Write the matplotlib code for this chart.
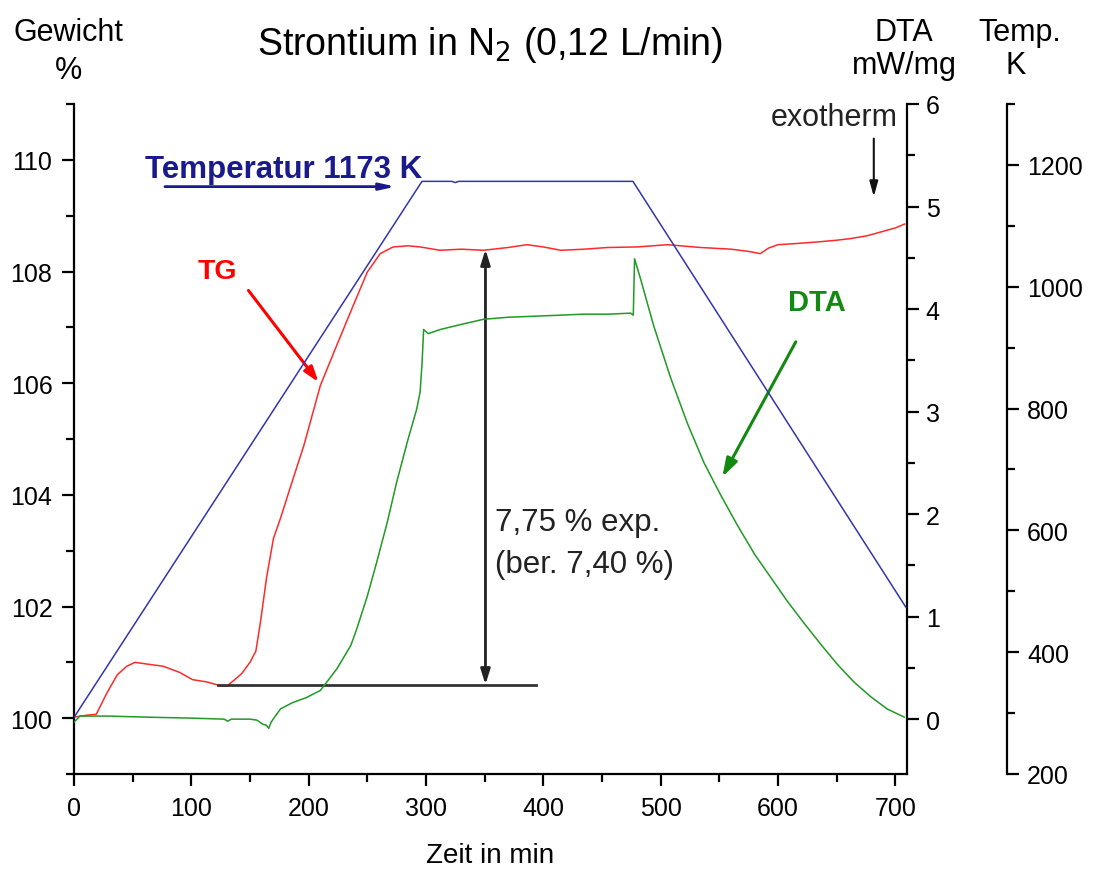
import matplotlib
matplotlib.use("Agg")
import matplotlib.pyplot as plt
from matplotlib.ticker import FixedLocator

plt.rcParams['font.family'] = ['Liberation Sans', 'DejaVu Sans']

# --- measured curves -------------------------------------------------------
# temperature programme (K) vs. time (min)
temp_t = [0, 296.6, 322, 325, 328, 476.4, 709]
temp_K = [293, 1173, 1173, 1171, 1173, 1173, 474]

# TG: relative mass (%)
tg_t = [0, 10, 19, 28, 37, 45, 52, 62, 76, 90, 101, 113, 125, 130, 137, 143,
        150, 155, 159, 164, 170, 176, 184, 196, 210, 224, 238, 250, 261, 272,
        285, 295, 312, 330, 349, 370, 386, 400, 415, 435, 455, 480, 506, 534,
        560, 575, 585, 592, 600, 615, 634, 650, 662, 676, 688, 700, 708]
tg_w = [100.02, 100.05, 100.07, 100.45, 100.78, 100.93, 101.00, 100.97,
        100.93, 100.82, 100.69, 100.65, 100.58, 100.57, 100.69, 100.80,
        101.00, 101.20, 101.73, 102.50, 103.22, 103.58, 104.11, 104.89,
        105.96, 106.68, 107.39, 107.99, 108.32, 108.44, 108.46, 108.44,
        108.38, 108.40, 108.38, 108.43, 108.48, 108.44, 108.38, 108.40,
        108.43, 108.44, 108.48, 108.43, 108.40, 108.36, 108.32, 108.42,
        108.48, 108.50, 108.53, 108.56, 108.59, 108.64, 108.71, 108.78, 108.85]

# DTA signal (mW/mg)
dta_t = [0, 5, 30, 60, 100, 128, 131, 134, 150, 156, 161, 164, 166, 168, 171,
         176, 186, 198, 210, 224, 236, 241, 250, 258, 267, 275, 284, 292, 295,
         296.7, 298, 302, 312, 330, 349, 370, 392, 414, 434, 455, 474.5, 476.7,
         477.8, 483, 494, 508.5, 523, 537, 551, 565, 580, 594, 608, 622, 636.5,
         651, 665, 679, 693, 707.6]
dta_v = [-0.03, 0.03, 0.03, 0.02, 0.01, 0.0, -0.02, 0.0, 0.0, -0.01, -0.05,
         -0.06, -0.09, -0.03, 0.02, 0.10, 0.16, 0.21, 0.28, 0.49, 0.72, 0.88,
         1.20, 1.53, 1.92, 2.31, 2.70, 3.02, 3.19, 3.48, 3.80, 3.76, 3.80,
         3.85, 3.90, 3.92, 3.93, 3.94, 3.95, 3.95, 3.96, 3.94, 4.49, 4.29,
         3.84, 3.33, 2.88, 2.50, 2.19, 1.90, 1.61, 1.38, 1.15, 0.94, 0.73,
         0.53, 0.36, 0.22, 0.10, 0.02]

# mass gain evaluation
gain_start_level = 100.6          # % before nitridation
gain_exp = 7.75                   # % gain, experimental
gain_top_level = gain_start_level * (1 + gain_exp / 100)
gain_span_t = [123, 394]          # extent of the base line (min)
gain_arrow_t = 350.7

x_ticks = [0, 100, 200, 300, 400, 500, 600, 700]
w_ticks = [100, 102, 104, 106, 108, 110]
dta_ticks = [0, 1, 2, 3, 4, 5, 6]
temp_ticks = [200, 400, 600, 800, 1000, 1200]

# --- colours ---------------------------------------------------------------
c_tg = '#ff2a2a'
c_dta = '#1f9a24'
c_temp = '#3434ac'
c_navy = '#1a1a8c'

W, H = 1093, 870
fig = plt.figure(figsize=(W / 100, H / 100), dpi=100)
L, R, B, T = 74, 907, 775, 105
ax = fig.add_axes([L / W, 1 - B / H, (R - L) / W, (B - T) / H])
ax2 = ax.twinx()
ax3 = ax.twinx()

tick_fs = 18
spine_lw = 1.6

# main axis: weight
ax.set_xlim(0, 710)
ax.set_ylim(99, 111)
ax.spines['top'].set_visible(False)
ax.spines['right'].set_visible(False)
for s in ('left', 'bottom'):
    ax.spines[s].set_linewidth(spine_lw)
ax.xaxis.set_major_locator(FixedLocator(x_ticks))
ax.xaxis.set_minor_locator(FixedLocator([50, 150, 250, 350, 450, 550, 650]))
ax.yaxis.set_major_locator(FixedLocator(w_ticks))
ax.yaxis.set_minor_locator(FixedLocator([99, 101, 103, 105, 107, 109, 111]))

# DTA axis
ax2.set_ylim(-0.535, 6.0)
for s in ('top', 'left', 'bottom'):
    ax2.spines[s].set_visible(False)
ax2.spines['right'].set_linewidth(spine_lw)
ax2.yaxis.set_major_locator(FixedLocator(dta_ticks))
ax2.yaxis.set_minor_locator(FixedLocator([0.5, 1.5, 2.5, 3.5, 4.5, 5.5]))

# temperature axis, offset to the right
ax3.set_ylim(200, 1300)
for s in ('top', 'left', 'bottom'):
    ax3.spines[s].set_visible(False)
ax3.spines['right'].set_position(('axes', (1007 - L) / (R - L)))
ax3.spines['right'].set_linewidth(spine_lw)
ax3.yaxis.set_major_locator(FixedLocator(temp_ticks))
ax3.yaxis.set_minor_locator(FixedLocator([300, 500, 700, 900, 1100, 1300]))

for a in (ax, ax2, ax3):
    a.tick_params(which='major', direction='out', length=8.5, width=spine_lw,
                  labelsize=tick_fs, pad=5, colors='black')
    a.tick_params(which='minor', direction='out', length=5.5, width=spine_lw)
ax.tick_params(axis='y', pad=7)
ax.tick_params(axis='x', pad=7)
ax2.tick_params(axis='y', pad=5)
ax3.tick_params(axis='y', pad=6)

# curves
ax3.plot(temp_t, temp_K, color=c_temp, lw=1.1)
ax.plot(tg_t, tg_w, color=c_tg, lw=1.1)
ax2.plot(dta_t, dta_v, color=c_dta, lw=1.1)

# mass gain markers
ax.plot(gain_span_t, [gain_start_level] * 2, color='#333333', lw=2)
ax.annotate('', xy=(gain_arrow_t, gain_top_level),
            xytext=(gain_arrow_t, gain_start_level),
            arrowprops=dict(arrowstyle='<|-|>,head_length=0.9,head_width=0.28',
                            color='#222222', lw=2, shrinkA=0, shrinkB=0))
ax.text(359, 103.52, '7,75 % exp.', fontsize=22.5, va='center', ha='left',
        color='#222222')
ax.text(359, 102.77, '(ber. 7,40 %)', fontsize=22.5, va='center', ha='left',
        color='#222222')

# curve labels
ax.text(60.5, 109.84, 'Temperatur 1173 K', fontsize=22.5, fontweight='bold',
        color=c_navy, va='center', ha='left')
ax.annotate('', xy=(274, 109.52), xytext=(77.5, 109.52),
            arrowprops=dict(arrowstyle='-|>,head_length=0.9,head_width=0.2',
                            color=c_navy, lw=2, shrinkA=0, shrinkB=0))

ax.text(122, 108.01, 'TG', fontsize=20.5, fontweight='bold', color='#ff0000',
        va='center', ha='center')
ax.annotate('', xy=(208.4, 106.02), xytext=(148.7, 107.66),
            arrowprops=dict(arrowstyle='-|>,head_length=0.9,head_width=0.3',
                            color='#ff0000', lw=2.2, shrinkA=0, shrinkB=0))

ax.text(633, 107.46, 'DTA', fontsize=21, fontweight='bold', color='#128a12',
        va='center', ha='center')
ax.annotate('', xy=(552.6, 104.32), xytext=(615.2, 106.74),
            arrowprops=dict(arrowstyle='-|>,head_length=1.1,head_width=0.35',
                            color='#128a12', lw=2.2, shrinkA=0, shrinkB=0))

ax.text(702, 110.77, 'exotherm', fontsize=22, color='#222222',
        va='center', ha='right')
ax.annotate('', xy=(681.7, 109.34), xytext=(681.7, 110.38),
            arrowprops=dict(arrowstyle='-|>,head_length=0.9,head_width=0.25',
                            color='#111111', lw=1.5, shrinkA=0, shrinkB=0))

# axis titles
ax.set_xlabel('Zeit in min', fontsize=20, labelpad=16)
fig.text(68 / W, 1 - 33 / H, 'Gewicht', fontsize=22, ha='center', va='center')
fig.text(68 / W, 1 - 71 / H, '%', fontsize=22, ha='center', va='center')
fig.text(904 / W, 1 - 33 / H, 'DTA', fontsize=22, ha='center', va='center')
fig.text(904 / W, 1 - 66 / H, 'mW/mg', fontsize=22, ha='center', va='center')
fig.text(1020 / W, 1 - 33 / H, 'Temp.', fontsize=22, ha='center', va='center')
fig.text(1016 / W, 1 - 66 / H, 'K', fontsize=22, ha='center', va='center')
fig.text(490 / W, 1 - 45 / H, r'Strontium in N$_2$ (0,12 L/min)', fontsize=27,
         ha='center', va='center')

fig.savefig('out.png', dpi=100)
